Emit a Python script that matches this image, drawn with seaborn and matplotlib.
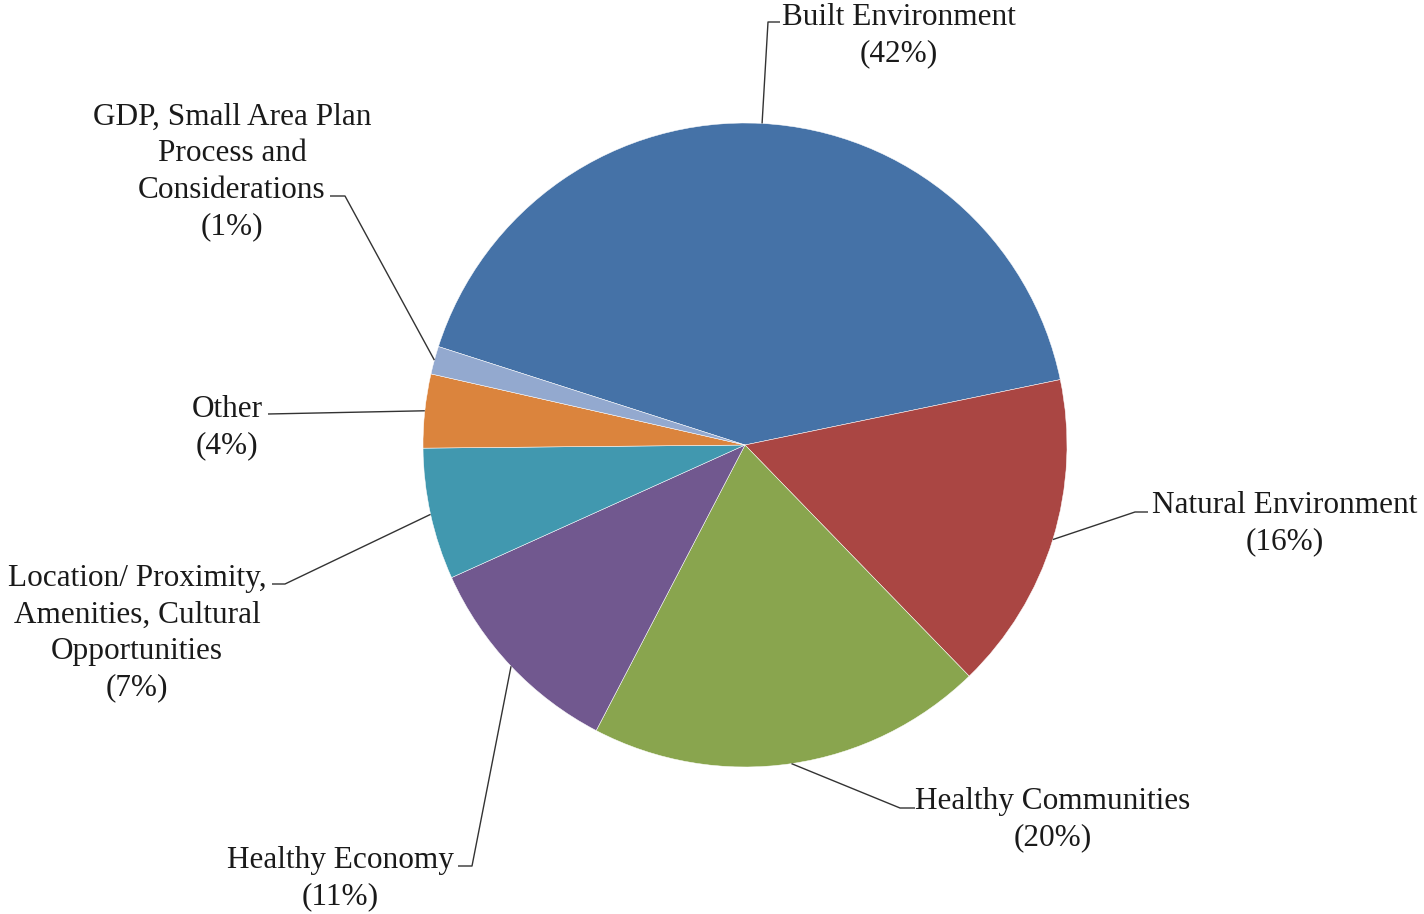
import numpy as np
import matplotlib
matplotlib.use("Agg")
import matplotlib.pyplot as plt
import seaborn as sns

# ---- data ----
categories = [
    "Built Environment",
    "Natural Environment",
    "Healthy Communities",
    "Healthy Economy",
    "Location/ Proximity,\nAmenities, Cultural\nOpportunities",
    "Other",
    "GDP, Small Area Plan\nProcess and\nConsiderations",
]
shares = [41.8, 16.0, 19.9, 10.6, 6.6, 3.7, 1.4]
colors = ["#4572A7", "#AA4643", "#89A54E", "#71588F", "#4198AF", "#DB843D", "#93A9CF"]

# ---- layout (pixel space of a 1424x914 canvas) ----
W, H = 1424, 914
CX, CY, R = 745, 445, 322
START = 162.2
# per label: elbow point, end point, text centre (x, y), all in pixel coords
label_layout = [
    ((768, 22), (780, 22), (899, 36)),
    ((1135, 512), (1148, 512), (1285, 524)),
    ((900, 808), (915, 808), (1053, 820)),
    ((472, 866), (458, 866), (340, 879)),
    ((285, 584), (272, 584), (137, 633)),
    ((268, 414), (268, 414), (227, 428)),
    ((345, 196), (330, 196), (232, 172)),
]

sns.set_theme(style="white")
plt.rcParams["font.family"] = ["Liberation Serif", "DejaVu Serif"]

fig = plt.figure(figsize=(W / 100, H / 100), dpi=100)
ax = fig.add_axes([0, 0, 1, 1])

def py(y):
    return H - y

wedges, _ = ax.pie(
    shares,
    colors=colors,
    startangle=START,
    counterclock=False,
    center=(CX, py(CY)),
    radius=R,
    wedgeprops=dict(edgecolor="white", linewidth=0.35),
)
ax.set_xlim(0, W)
ax.set_ylim(0, H)
ax.set_aspect("equal")
ax.axis("off")

for w, name, val, (elbow, end, tpos) in zip(wedges, categories, shares, label_layout):
    mid = np.deg2rad((w.theta1 + w.theta2) / 2)
    ax_x = CX + R * np.cos(mid)
    ax_y = py(CY) + R * np.sin(mid)
    xs = [ax_x, elbow[0], end[0]]
    ys = [ax_y, py(elbow[1]), py(end[1])]
    ax.plot(xs, ys, color="#333333", lw=1.0, solid_capstyle="butt")
    ax.text(
        tpos[0], py(tpos[1]),
        f"{name}\n({int(round(val))}%)",
        ha="center", va="center", multialignment="center",
        fontsize=22.5, color="#1a1a1a", linespacing=1.33,
    )

fig.savefig("out.png", dpi=100, facecolor="white")
